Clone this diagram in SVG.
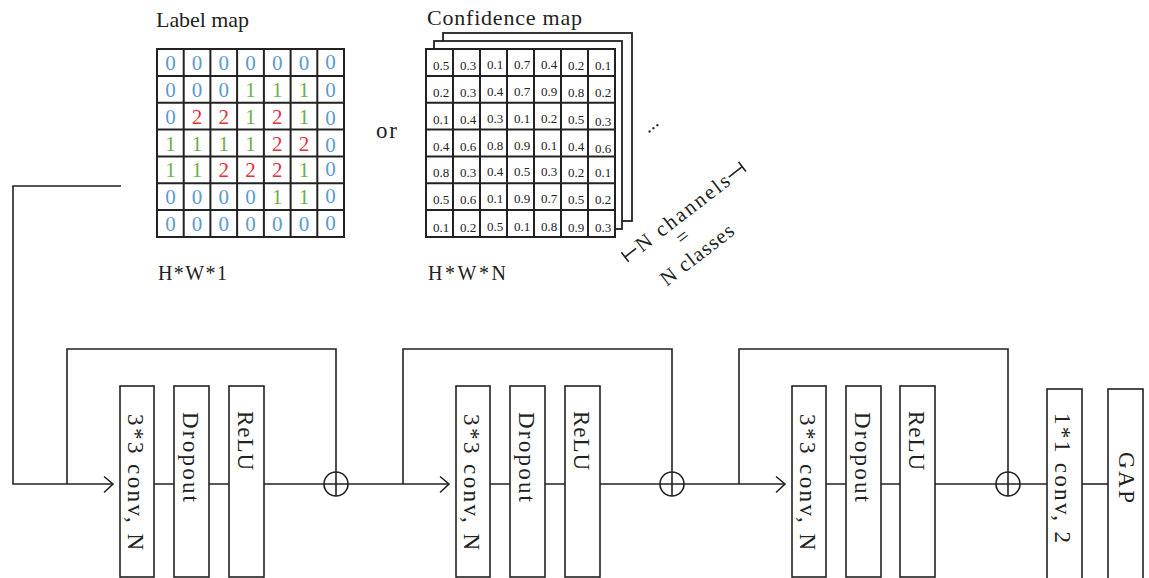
<svg xmlns="http://www.w3.org/2000/svg" width="1149" height="578" viewBox="0 0 1149 578">
  <defs>
    <style>
      text { font-family: "Liberation Serif", "DejaVu Serif", serif; fill: #222; }
      .title { font-size: 22px; }
      .dim { font-size: 20px; }
      .grid { fill: none; stroke: #222; stroke-width: 2; }
      .sheet { fill: #fff; stroke: #222; stroke-width: 1.8; }
      .lm { font-size: 21px; text-anchor: middle; }
      .c0 { fill: #5B9BD5; }
      .c1 { fill: #6DAE4A; }
      .c2 { fill: #E2323C; }
      .cm { font-size: 13px; text-anchor: middle; fill: #333; }
      .box { fill: #fff; stroke: #222; stroke-width: 1.6; }
      .lbl { font-size: 23px; }
      .wire { fill: none; stroke: #222; stroke-width: 1.6; }
      .sum { fill: #fff; stroke: #222; stroke-width: 1.6; }
    </style>
  </defs>

  <!-- Label map: 7x7 class indices -->
  <g id="label-map">
    <text class="title" x="156" y="27" textLength="93" lengthAdjust="spacing">Label map</text>
    <rect x="157" y="49" width="187" height="188" fill="#fff"/>
    <path class="grid" d="M157 49H344V237H157Z M183.7 49V237 M210.4 49V237 M237.1 49V237 M263.9 49V237 M290.6 49V237 M317.3 49V237 M157 75.9H344 M157 102.7H344 M157 129.6H344 M157 156.4H344 M157 183.3H344 M157 210.1H344"/>
    <g class="lm">
      <!-- row 1 -->
      <text class="c0" x="170.4" y="70">0</text><text class="c0" x="197.1" y="70">0</text><text class="c0" x="223.8" y="70">0</text><text class="c0" x="250.5" y="70">0</text><text class="c0" x="277.2" y="70">0</text><text class="c0" x="303.9" y="70">0</text><text class="c0" x="330.6" y="69">0</text>
      <!-- row 2 -->
      <text class="c0" x="170.4" y="96.9">0</text><text class="c0" x="197.1" y="96.9">0</text><text class="c0" x="223.8" y="96.9">0</text><text class="c1" x="250.5" y="96.9">1</text><text class="c1" x="277.2" y="96.9">1</text><text class="c1" x="303.9" y="96.9">1</text><text class="c0" x="330.6" y="96.9">0</text>
      <!-- row 3 -->
      <text class="c0" x="170.4" y="123.7">0</text><text class="c2" x="197.1" y="123.7">2</text><text class="c2" x="223.8" y="123.7">2</text><text class="c1" x="250.5" y="123.7">1</text><text class="c2" x="277.2" y="123.7">2</text><text class="c1" x="303.9" y="123.7">1</text><text class="c0" x="330.6" y="124.7">0</text>
      <!-- row 4 -->
      <text class="c1" x="170.4" y="150.6">1</text><text class="c1" x="197.1" y="150.6">1</text><text class="c1" x="223.8" y="150.6">1</text><text class="c1" x="250.5" y="150.6">1</text><text class="c2" x="277.2" y="150.6">2</text><text class="c2" x="303.9" y="150.6">2</text><text class="c0" x="330.6" y="151.6">0</text>
      <!-- row 5 -->
      <text class="c1" x="170.4" y="177.4">1</text><text class="c1" x="197.1" y="177.4">1</text><text class="c2" x="223.8" y="177.4">2</text><text class="c2" x="250.5" y="177.4">2</text><text class="c2" x="277.2" y="177.4">2</text><text class="c1" x="303.9" y="177.4">1</text><text class="c0" x="330.6" y="176.4">0</text>
      <!-- row 6 -->
      <text class="c0" x="170.4" y="204.3">0</text><text class="c0" x="197.1" y="204.3">0</text><text class="c0" x="223.8" y="204.3">0</text><text class="c0" x="250.5" y="204.3">0</text><text class="c1" x="277.2" y="204.3">1</text><text class="c1" x="303.9" y="204.3">1</text><text class="c0" x="330.6" y="203.3">0</text>
      <!-- row 7 -->
      <text class="c0" x="170.4" y="231.2">0</text><text class="c0" x="197.1" y="231.2">0</text><text class="c0" x="223.8" y="231.2">0</text><text class="c0" x="250.5" y="231.2">0</text><text class="c0" x="277.2" y="231.2">0</text><text class="c0" x="303.9" y="231.2">0</text><text class="c0" x="330.6" y="230.2">0</text>
    </g>
    <text class="dim" x="158" y="280" textLength="69" lengthAdjust="spacing">H*W*1</text>
  </g>

  <g id="or-label">
    <text x="376" y="138" font-size="23" textLength="21" lengthAdjust="spacing">or</text>
  </g>

  <!-- Confidence map: stack of N channels -->
  <g id="confidence-map">
    <text class="title" x="427" y="25" textLength="155" lengthAdjust="spacing">Confidence map</text>
    <rect class="sheet" x="443" y="33" width="189" height="188"/>
    <rect class="sheet" x="434" y="41" width="188" height="188"/>
    <rect x="426" y="49" width="189" height="188" fill="#fff"/>
    <path class="grid" stroke-width="1.8" d="M426 49H615V237H426Z M453 49V237 M480 49V237 M507 49V237 M534 49V237 M561 49V237 M588 49V237 M426 75.9H615 M426 102.7H615 M426 129.6H615 M426 156.4H615 M426 183.3H615 M426 210.1H615"/>
    <g class="cm">
      <text x="441" y="70">0.5</text><text x="468" y="70">0.3</text><text x="495" y="69">0.1</text><text x="522" y="69">0.7</text><text x="549" y="69">0.4</text><text x="576" y="70">0.2</text><text x="603" y="70">0.1</text>
      <text x="441" y="96.9">0.2</text><text x="468" y="96.9">0.3</text><text x="495" y="95.9">0.4</text><text x="522" y="95.9">0.7</text><text x="549" y="95.9">0.9</text><text x="576" y="96.9">0.8</text><text x="603" y="96.9">0.2</text>
      <text x="441" y="123.7">0.1</text><text x="468" y="123.7">0.4</text><text x="495" y="122.7">0.3</text><text x="522" y="122.7">0.1</text><text x="549" y="122.7">0.2</text><text x="576" y="123.7">0.5</text><text x="603" y="125.7">0.3</text>
      <text x="441" y="150.6">0.4</text><text x="468" y="150.6">0.6</text><text x="495" y="149.6">0.8</text><text x="522" y="149.6">0.9</text><text x="549" y="149.6">0.1</text><text x="576" y="150.6">0.4</text><text x="603" y="152.6">0.6</text>
      <text x="441" y="177.4">0.8</text><text x="468" y="177.4">0.3</text><text x="495" y="176.4">0.4</text><text x="522" y="176.4">0.5</text><text x="549" y="176.4">0.3</text><text x="576" y="177.4">0.2</text><text x="603" y="177.4">0.1</text>
      <text x="441" y="204.3">0.5</text><text x="468" y="204.3">0.6</text><text x="495" y="203.3">0.1</text><text x="522" y="203.3">0.9</text><text x="549" y="203.3">0.7</text><text x="576" y="204.3">0.5</text><text x="603" y="204.3">0.2</text>
      <text x="441" y="232.2">0.1</text><text x="468" y="232.2">0.2</text><text x="495" y="231.2">0.5</text><text x="522" y="231.2">0.1</text><text x="549" y="231.2">0.8</text><text x="576" y="232.2">0.9</text><text x="603" y="232.2">0.3</text>
    </g>
    <text x="654" y="129" font-size="20" text-anchor="middle" transform="rotate(-40 654 129)">...</text>
    <text class="dim" x="428" y="280" textLength="78" lengthAdjust="spacing">H*W*N</text>
  </g>

  <!-- Channel-count annotation, drawn along a slanted axis -->
  <g id="channel-note" transform="translate(625 257) rotate(-37.6)">
    <path class="wire" d="M0 -6V6 M0 0H14 M131 0H148 M148 -6V6"/>
    <text x="16" y="7" font-size="21" textLength="113" lengthAdjust="spacing">N channels</text>
    <text x="58" y="26" font-size="21" text-anchor="middle">=</text>
    <text x="15" y="49" font-size="21" textLength="87" lengthAdjust="spacing">N classes</text>
  </g>

  <!-- Connectors -->
  <g id="connectors">
    <!-- input feed -->
    <path class="wire" d="M121 186H13V484H113"/>
    <path class="wire" d="M104 476.5L113 484L104 492.5"/>
    <!-- block 1 -->
    <path class="wire" d="M154 484H174 M209 484H229 M264 484H449"/>
    <path class="wire" d="M67 484V349H336V496"/>
    <path class="wire" d="M440 476.5L449 484L440 492.5"/>
    <!-- block 2 -->
    <path class="wire" d="M490 484H510 M545 484H565 M600 484H785"/>
    <path class="wire" d="M403 484V349H672V496"/>
    <path class="wire" d="M776 476.5L785 484L776 492.5"/>
    <!-- block 3 -->
    <path class="wire" d="M826 484H846 M881 484H900 M935 484H1047"/>
    <path class="wire" d="M739 484V349H1008V496"/>
    <!-- head -->
    <path class="wire" d="M1082 484H1108"/>
  </g>

  <!-- Residual sums -->
  <g id="sum-1"><circle class="sum" cx="336" cy="484" r="12"/><path class="wire" d="M324 484H348 M336 472V496"/></g>
  <g id="sum-2"><circle class="sum" cx="672" cy="484" r="12"/><path class="wire" d="M660 484H684 M672 472V496"/></g>
  <g id="sum-3"><circle class="sum" cx="1008" cy="484" r="12"/><path class="wire" d="M996 484H1020 M1008 472V496"/></g>

  <!-- Block 1 -->
  <g id="b1-conv"><rect class="box" x="120" y="386" width="34" height="191"/><text class="lbl" transform="translate(128 414) rotate(90)" textLength="136" lengthAdjust="spacing">3*3  conv, N</text></g>
  <g id="b1-dropout"><rect class="box" x="174" y="386" width="35" height="191"/><text class="lbl" transform="translate(182.5 412) rotate(90)" textLength="90" lengthAdjust="spacing">Dropout</text></g>
  <g id="b1-relu"><rect class="box" x="229" y="386" width="35" height="191"/><text class="lbl" transform="translate(238 411) rotate(90)" textLength="59" lengthAdjust="spacing">ReLU</text></g>

  <!-- Block 2 -->
  <g id="b2-conv"><rect class="box" x="456" y="386" width="34" height="191"/><text class="lbl" transform="translate(464 414) rotate(90)" textLength="136" lengthAdjust="spacing">3*3  conv, N</text></g>
  <g id="b2-dropout"><rect class="box" x="510" y="386" width="35" height="191"/><text class="lbl" transform="translate(518.5 412) rotate(90)" textLength="90" lengthAdjust="spacing">Dropout</text></g>
  <g id="b2-relu"><rect class="box" x="565" y="386" width="35" height="191"/><text class="lbl" transform="translate(574 411) rotate(90)" textLength="59" lengthAdjust="spacing">ReLU</text></g>

  <!-- Block 3 -->
  <g id="b3-conv"><rect class="box" x="792" y="386" width="34" height="191"/><text class="lbl" transform="translate(800 414) rotate(90)" textLength="136" lengthAdjust="spacing">3*3  conv, N</text></g>
  <g id="b3-dropout"><rect class="box" x="846" y="386" width="35" height="191"/><text class="lbl" transform="translate(854.5 412) rotate(90)" textLength="90" lengthAdjust="spacing">Dropout</text></g>
  <g id="b3-relu"><rect class="box" x="900" y="386" width="35" height="191"/><text class="lbl" transform="translate(909 411) rotate(90)" textLength="59" lengthAdjust="spacing">ReLU</text></g>

  <!-- Head -->
  <g id="head-conv"><rect class="box" x="1047" y="389" width="35" height="195"/><text class="lbl" transform="translate(1055 413) rotate(90)" textLength="130" lengthAdjust="spacing">1*1  conv, 2</text></g>
  <g id="head-gap"><rect class="box" x="1108" y="389" width="35" height="195"/><text class="lbl" transform="translate(1118.5 452) rotate(90)" textLength="51" lengthAdjust="spacing">GAP</text></g>
</svg>
